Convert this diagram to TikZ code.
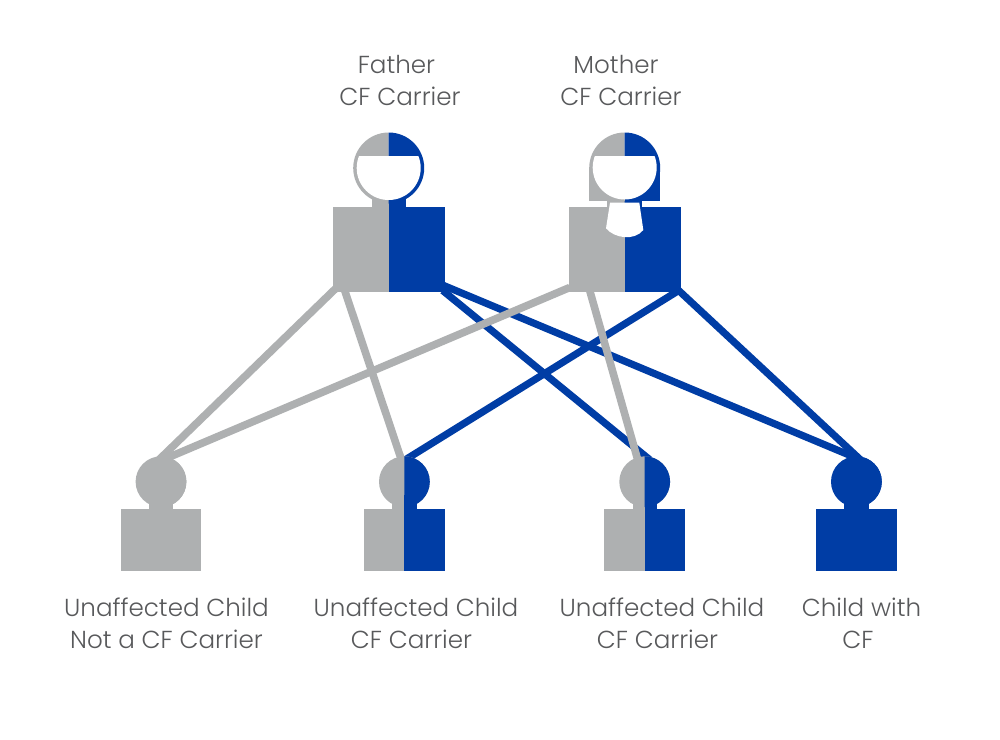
\documentclass[tikz,border=0pt]{standalone}
\usepackage{fontspec}
\setmainfont{Poppins Light}
\usetikzlibrary{calc}
\definecolor{cfgrey}{HTML}{AEB0B1}
\definecolor{cfblue}{HTML}{003DA5}
\definecolor{cftext}{HTML}{58595B}
\tikzset{
  greyline/.style={draw=cfgrey,line width=7.6pt},
  blueline/.style={draw=cfblue,line width=7.2pt},
  caption/.style={align=center,text=cftext,font=\fontsize{24.6}{32}\selectfont,inner sep=0pt},
  anchorbox/.style={inner sep=0pt,outer sep=0pt,minimum width=#1,minimum height=#1},
}
\newcommand{\childfig}[3]{% centre x, left colour, right colour
  \fill[#2] (#1,481.7) circle[radius=25.4];
  \fill[#2] (#1-12.2,495) rectangle (#1+12.2,510);
  \fill[#2] (#1-40.3,509.3) rectangle (#1+40.3,571);
  \fill[#3] (#1,456.3) arc[start angle=-90,end angle=90,radius=25.4] -- cycle;
  \fill[#3] (#1,495) rectangle (#1+12.2,510);
  \fill[#3] (#1,509.3) rectangle (#1+40.3,571);
}
\begin{document}
\begin{tikzpicture}[x=1pt,y=-1pt]
\useasboundingbox (0,0) rectangle (1000,739);
\fill[white] (0,0) rectangle (1000,739);
% named anchor points
\node[anchorbox=1pt] (father) at (388.7,249.5) {};
\node[anchorbox=1pt] (mother) at (624.7,249.5) {};
\coordinate (fa) at ($(father)+(-52,38)$);
\coordinate (fb) at ($(father)+(-44,41)$);
\coordinate (fc) at ($(father)+(55,36)$);
\coordinate (fd) at ($(father)+(54,41)$);
\coordinate (ma) at ($(mother)+(-55,38)$);
\coordinate (mb) at ($(mother)+(-35,41)$);
\coordinate (mc) at ($(mother)+(54,41)$);
\node[anchorbox=1pt] (c1) at (161,481.7) {};
\node[anchorbox=1pt] (c2) at (404.4,481.7) {};
\node[anchorbox=1pt] (c3) at (644.7,481.7) {};
\node[anchorbox=1pt] (c4) at (856.4,481.7) {};
% connectors
\draw[blueline] (fc) -- ($(c4)+(4,-22)$);
\draw[blueline] (fd) -- ($(c3)+(5,-22)$);
\draw[blueline] (mc) -- ($(c2)+(1,-22)$);
\draw[blueline] (mc) -- ($(c4)+(4,-22)$);
\draw[greyline] (fa) -- ($(c1)+(-2,-22)$);
\draw[greyline] (fb) -- ($(c2)+(-3,-22)$);
\draw[greyline] (ma) -- ($(c1)+(2,-22)$);
\draw[greyline] (mb) -- ($(c3)+(-7,-22)$);
% father
\fill[cfgrey] (332.7,206.7) rectangle (388.7,292.3);
\fill[cfblue] (388.7,206.7) rectangle (445,292.3);
\fill[cfgrey] (371.7,195) rectangle (388.7,207);
\fill[cfblue] (388.7,195) rectangle (406,207);
\fill[cfgrey] (388.7,132.5) arc[start angle=-90,end angle=-270,radius=35.5] -- cycle;
\fill[cfblue] (388.7,132.5) arc[start angle=-90,end angle=90,radius=35.5] -- cycle;
\begin{scope}
\clip (340,156) rectangle (440,210);
\fill[white] (388.7,168) circle[radius=32];
\end{scope}
% mother
\fill[cfgrey] (568.7,206.7) rectangle (624.7,292.3);
\fill[cfblue] (624.7,206.7) rectangle (681,292.3);
\fill[cfgrey] (607.3,200) rectangle (624.7,207);
\fill[cfblue] (624.7,200) rectangle (642,207);
\fill[cfgrey] (624.7,132.5) arc[start angle=-90,end angle=-270,radius=35.5] -- cycle;
\fill[cfblue] (624.7,132.5) arc[start angle=-90,end angle=90,radius=35.5] -- cycle;
\fill[cfgrey] (589.2,168) rectangle (624.7,201.3);
\fill[cfblue] (624.7,168) rectangle (660.2,201.3);
\begin{scope}
\clip (580,156) rectangle (670,210);
\fill[white] (624.7,167.5) circle[radius=32];
\end{scope}
\fill[white] (610,202.7) -- (606,228.3) .. controls (614,238) and (634,241.5) .. (643.3,230) -- (639.3,202.7) -- cycle;
% children
\childfig{161}{cfgrey}{cfgrey}
\childfig{404.4}{cfgrey}{cfblue}
\childfig{644.7}{cfgrey}{cfblue}
\childfig{856.4}{cfblue}{cfblue}
% labels
\node[caption] (tf) at (400,80.5) {\hspace*{-7pt}Father\\CF Carrier};
\node[caption] (tm) at (621,80.5) {\hspace*{-10pt}Mother\\CF Carrier};
\node[caption] (t1) at (166.5,623) {Unaffected Child\\Not a CF Carrier};
\node[caption] (t2) at (416,623) {Unaffected Child\\\hspace*{-9pt}CF Carrier};
\node[caption] (t3) at (662,623) {Unaffected Child\\\hspace*{-9pt}CF Carrier};
\node[caption] (t4) at (861.5,623) {Child with\\\hspace*{-7pt}CF};
\end{tikzpicture}
\end{document}
